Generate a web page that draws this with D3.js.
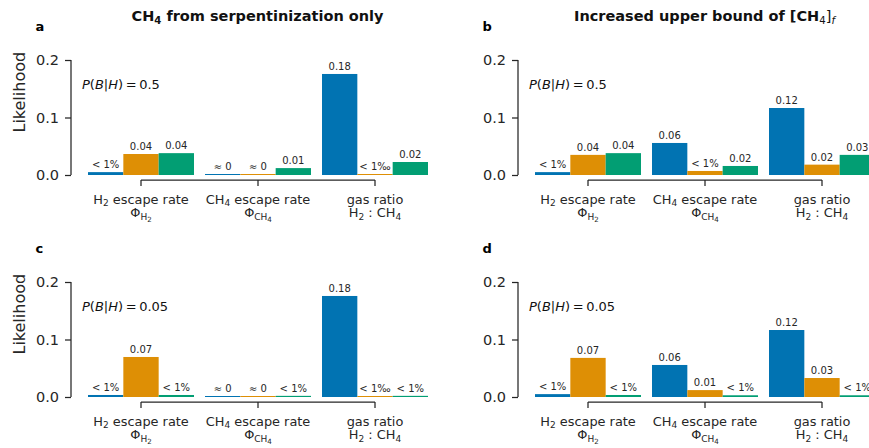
<!DOCTYPE html>
<html>
<head>
<meta charset="utf-8">
<script src="https://cdn.jsdelivr.net/npm/d3@7"></script>
<style>
  body { margin: 0; background: #fff; }
  svg { font-family: "DejaVu Sans", sans-serif; }
</style>
</head>
<body>
<script>
// groups and series
var groups = ["h2", "ch4", "ratio"];
var seriesColors = ["#0173b2", "#de8f05", "#029e73"];
var yTicks = [0, 0.1, 0.2];

// panel a: CH4 from serpentinization only, P(B|H) = 0.5
var valuesA = [[0.005, 0.0365, 0.038], [0.0005, 0.0005, 0.012], [0.1757, 0.0008, 0.0226]];
var labelsA = [["< 1%", "0.04", "0.04"], ["≈ 0", "≈ 0", "0.01"], ["0.18", "< 1‰", "0.02"]];

// panel b: increased upper bound, P(B|H) = 0.5
var valuesB = [[0.005, 0.035, 0.038], [0.0557, 0.007, 0.0157], [0.1165, 0.018, 0.035]];
var labelsB = [["< 1%", "0.04", "0.04"], ["0.06", "< 1%", "0.02"], ["0.12", "0.02", "0.03"]];

// panel c: CH4 from serpentinization only, P(B|H) = 0.05
var valuesC = [[0.0035, 0.0696, 0.0035], [0.0005, 0.0005, 0.002], [0.1757, 0.0008, 0.002]];
var labelsC = [["< 1%", "0.07", "< 1%"], ["≈ 0", "≈ 0", "< 1%"], ["0.18", "< 1‰", "< 1%"]];

// panel d: increased upper bound, P(B|H) = 0.05
var valuesD = [[0.005, 0.068, 0.0035], [0.0557, 0.012, 0.003], [0.1165, 0.033, 0.003]];
var labelsD = [["< 1%", "0.07", "< 1%"], ["0.06", "0.01", "< 1%"], ["0.12", "0.03", "< 1%"]];

// x tick labels, s = subscript level
var groupLabels = [
  [[{t: "H"}, {t: "2", s: 1}, {t: " escape rate"}], [{t: "Φ"}, {t: "H", s: 1}, {t: "2", s: 2}]],
  [[{t: "CH"}, {t: "4", s: 1}, {t: " escape rate"}], [{t: "Φ"}, {t: "CH", s: 1}, {t: "4", s: 2}]],
  [[{t: "gas ratio"}], [{t: "H"}, {t: "2", s: 1}, {t: " : CH"}, {t: "4", s: 1}]]
];

var titleA = [{t: "CH", b: 1}, {t: "4", s: 1, b: 1}, {t: " from serpentinization only", b: 1}];
var titleB = [{t: "Increased upper bound of [CH", b: 1}, {t: "4", s: 1}, {t: "]"}, {t: "f", s: 1, i: 1}];

var ink = "#262626";

var svg = d3.select("body").append("svg")
  .attr("width", 869)
  .attr("height", 448);

// write text made of pieces with subscripts
function rich(text, segs, size) {
  var scale = [1, 0.7, 0.55],
      shift = [0, 0.22, 0.36],
      cur = 0;
  segs.forEach(function (s) {
    var lv = s.s || 0;
    var target = shift[lv] * size;
    text.append("tspan")
      .attr("dy", target - cur)
      .style("font-size", (size * scale[lv]) + "px")
      .style("font-style", s.i ? "italic" : null)
      .style("font-weight", s.b ? "bold" : "normal")
      .text(s.t);
    cur = target;
  });
}

function drawPanel(ox, oy, vals, labs, opts) {
  var g = svg.append("g").attr("transform", "translate(" + ox + "," + oy + ")");

  var y = d3.scaleLinear().domain([0, 0.2]).range([175, 60]);
  var x = d3.scaleBand().domain(groups).range([82.5, 433.5])
    .paddingInner(0.094).paddingOuter(0.047);
  var xs = d3.scaleBand().domain([0, 1, 2]).range([0, x.bandwidth()]);

  // bars
  groups.forEach(function (grp, i) {
    var cell = g.append("g").attr("transform", "translate(" + x(grp) + ",0)");
    cell.selectAll("rect")
      .data(vals[i])
      .enter().append("rect")
      .attr("x", function (d, j) { return xs(j); })
      .attr("width", xs.bandwidth())
      .attr("y", function (d) { return Math.min(y(d), y(0) - 1); })
      .attr("height", function (d) { return Math.max(y(0) - y(d), 1); })
      .attr("fill", function (d, j) { return seriesColors[j]; });

    cell.selectAll("text")
      .data(vals[i])
      .enter().append("text")
      .attr("x", function (d, j) { return xs(j) + xs.bandwidth() / 2; })
      .attr("y", function (d) { return Math.min(y(d), y(0) - 1) - 4; })
      .attr("text-anchor", "middle")
      .style("font-size", "10px")
      .style("fill", ink)
      .text(function (d, j) { return labs[i][j]; });
  });

  // y axis, trimmed spine
  var yAxis = g.append("g")
    .attr("transform", "translate(71,0)")
    .call(d3.axisLeft(y).tickValues(yTicks).tickFormat(d3.format(".1f")).tickSize(6).tickPadding(6));
  yAxis.select(".domain").remove();
  yAxis.append("line")
    .attr("y1", y(0)).attr("y2", y(0.2));
  yAxis.selectAll("line").attr("stroke", ink).attr("stroke-width", 1.25);
  yAxis.selectAll("text")
    .style("font-size", "14.5px")
    .style("font-family", "DejaVu Sans")
    .attr("fill", ink);

  // x axis, offset below the bars
  var c0 = x(groups[0]) + x.bandwidth() / 2,
      c1 = x(groups[groups.length - 1]) + x.bandwidth() / 2;
  var xAxis = g.append("g")
    .attr("transform", "translate(0,180)")
    .call(d3.axisBottom(x).tickSize(6).tickFormat(""));
  xAxis.select(".domain").remove();
  xAxis.append("line").attr("x1", c0).attr("x2", c1);
  xAxis.selectAll("line").attr("stroke", ink).attr("stroke-width", 1.25);

  groups.forEach(function (grp, i) {
    var cx = x(grp) + x.bandwidth() / 2;
    groupLabels[i].forEach(function (line, k) {
      var t = g.append("text")
        .attr("x", cx)
        .attr("y", 203.5 + k * 13.5)
        .attr("text-anchor", "middle")
        .style("fill", ink);
      rich(t, line, 12.9);
    });
  });

  // P(B|H) note
  var note = g.append("text")
    .attr("x", 82)
    .attr("y", y(0.158) + 4.5)
    .style("font-size", "13px")
    .style("fill", "#111");
  note.append("tspan").style("font-style", "italic").text("P");
  note.append("tspan").text("(");
  note.append("tspan").style("font-style", "italic").text("B");
  note.append("tspan").text("|");
  note.append("tspan").style("font-style", "italic").text("H");
  note.append("tspan").text(")\u2009=\u2009" + opts.p);

  if (opts.ylabel) {
    g.append("text")
      .attr("transform", "translate(25," + y(0.144) + ") rotate(-90)")
      .attr("text-anchor", "middle")
      .style("font-size", "16px")
      .style("fill", ink)
      .text("Likelihood");
  }

  // panel letter
  g.append("text")
    .attr("x", 35.5)
    .attr("y", 31)
    .style("font-size", "13px")
    .style("font-weight", "bold")
    .text(opts.letter);

  if (opts.title) {
    var tt = g.append("text")
      .attr("x", 257.5)
      .attr("y", 20.5)
      .attr("text-anchor", "middle")
      .style("fill", "#111");
    rich(tt, opts.title, 14.5);
  }
}

drawPanel(0, 0, valuesA, labelsA, {p: "0.5", letter: "a", ylabel: true, title: titleA});
drawPanel(447, 0, valuesB, labelsB, {p: "0.5", letter: "b", ylabel: false, title: titleB});
drawPanel(0, 222, valuesC, labelsC, {p: "0.05", letter: "c", ylabel: true});
drawPanel(447, 222, valuesD, labelsD, {p: "0.05", letter: "d", ylabel: false});
</script>
</body>
</html>
